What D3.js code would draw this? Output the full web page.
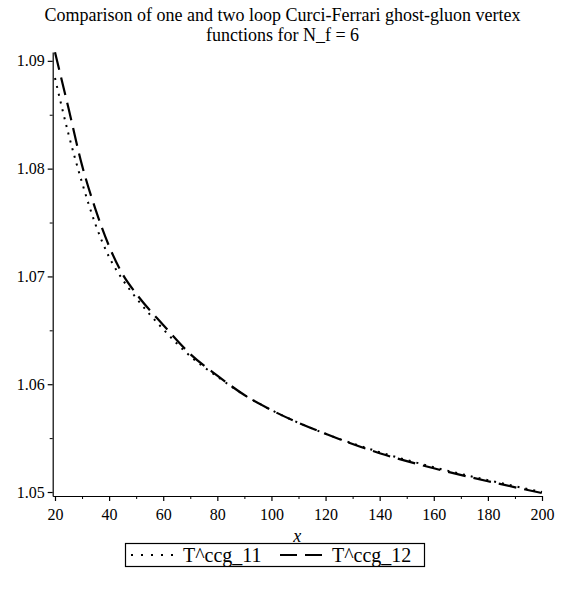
<!DOCTYPE html>
<html>
<head>
<meta charset="utf-8">
<script src="https://cdn.jsdelivr.net/npm/d3@7"></script>
<style>
	body { margin: 0; background: #fff; }
	#chart text { font-family: 'Liberation Serif', 'DejaVu Serif', Times, serif !important; fill: #000; }
</style>
</head>
<body>
<svg id="chart" width="565" height="590" font-family="Liberation Serif"></svg>
<script>
// values
const xValues = [20, 25, 30, 35, 40, 45, 50, 60, 70, 80, 90, 100, 120, 140, 160, 180, 200];
const t11Values = [1.0884, 1.0832, 1.0787, 1.0748, 1.0718, 1.0697, 1.0680, 1.0651, 1.0626, 1.0607, 1.0590, 1.0576, 1.0554, 1.0537, 1.0523, 1.0511, 1.0500];
const t12Values = [1.0908, 1.0856, 1.0803, 1.0762, 1.0728, 1.0702, 1.0684, 1.0655, 1.0628, 1.0608, 1.0590, 1.0576, 1.0554, 1.0536, 1.0522, 1.0510, 1.0499];
const xTicks = [20, 40, 60, 80, 100, 120, 140, 160, 180, 200];
const yTicks = [1.05, 1.06, 1.07, 1.08, 1.09];
const seriesNames = ['T^ccg_11', 'T^ccg_12'];
const titleLines = ['Comparison of one and two loop Curci-Ferrari ghost-gluon vertex', 'functions for N_f = 6'];
const xLabel = 'x';

let curvePlot = function (opts = {}) {
	this.opts = opts;
	this.svg = d3.select(opts.el);
	this.left = 52.7;
	this.right = 542;
	this.top = 52;
	this.bottom = 496;
	this.init();
}

let fn = curvePlot.prototype;

fn.init = function () {
	this.x = d3.scaleLinear().domain([19.15, 200]).range([this.left, this.right]);
	this.y = d3.scaleLinear().domain([1.04963, 1.09082]).range([this.bottom, this.top]);
	this.series = [
		{ name: seriesNames[0], values: t11Values, dash: '2,6', width: 2 },
		{ name: seriesNames[1], values: t12Values, dash: '18,8', width: 2.2 }
	];
	this.setTitle();
	this.setAxes();
	this.setLines();
	this.setLegend();
}

fn.setTitle = function () {
	this.svg.append('g').selectAll('text').data(titleLines).enter().append('text')
		.attr('x', 282.5).attr('y', (d, i) => 21 + i * 20)
		.attr('text-anchor', 'middle').attr('font-size', 18).text(d => d);
}

fn.setAxes = function () {
	let x = this.x, y = this.y;
	// minor ticks first, majors on top
	this.svg.append('g').attr('transform', `translate(0,${this.bottom})`)
		.call(d3.axisBottom(x).tickValues(d3.range(30, 200, 20)).tickSize(3).tickFormat('').tickSizeOuter(0))
		.select('.domain').remove();
	this.svg.append('g').attr('transform', `translate(${this.left},0)`)
		.call(d3.axisLeft(y).tickValues(d3.range(1.055, 1.09, 0.01)).tickSize(3).tickFormat('').tickSizeOuter(0))
		.select('.domain').remove();

	let gx = this.svg.append('g').attr('transform', `translate(0,${this.bottom})`)
		.call(d3.axisBottom(x).tickValues(xTicks).tickSize(5).tickPadding(8).tickSizeOuter(0));
	let gy = this.svg.append('g').attr('transform', `translate(${this.left},0)`)
		.call(d3.axisLeft(y).tickValues(yTicks).tickSize(5).tickPadding(3).tickSizeOuter(0).tickFormat(d3.format('.2f')));
	[gx, gy].forEach(g => {
		g.attr('font-family', null).attr('font-size', 16);
		g.selectAll('path, line').attr('stroke', '#000').attr('stroke-width', 1.2);
	});

	this.svg.append('text').attr('x', (this.left + this.right) / 2).attr('y', 542)
		.attr('text-anchor', 'middle').attr('font-size', 18).attr('font-style', 'italic').text(xLabel);
}

fn.setLines = function () {
	let that = this;
	let line = d3.line().curve(d3.curveMonotoneX);
	this.svg.append('g').selectAll('path').data(this.series).enter().append('path')
		.attr('fill', 'none').attr('stroke', '#000')
		.attr('stroke-width', d => d.width).attr('stroke-dasharray', d => d.dash)
		.attr('d', d => line(xValues.map((xv, i) => [that.x(xv), that.y(d.values[i])])));
}

fn.setLegend = function () {
	let g = this.svg.append('g').attr('class', 'legend');
	g.append('rect').attr('x', 125.5).attr('y', 543.5).attr('width', 299).attr('height', 23)
		.attr('fill', 'none').attr('stroke', '#000').attr('stroke-width', 1.2);
	let items = g.selectAll('g').data(this.series).enter().append('g')
		.attr('transform', (d, i) => `translate(${131 + i * 149},0)`);
	items.append('line').attr('x1', 0).attr('x2', 42).attr('y1', 555).attr('y2', 555)
		.attr('stroke', '#000').attr('stroke-width', d => d.width)
		.attr('stroke-dasharray', d => d.dash === '2,6' ? '2,8' : '17,8');
	items.append('text').attr('x', 52).attr('y', 562).attr('font-size', 20).text(d => d.name);
}

new curvePlot({ el: '#chart' });
</script>
</body>
</html>
